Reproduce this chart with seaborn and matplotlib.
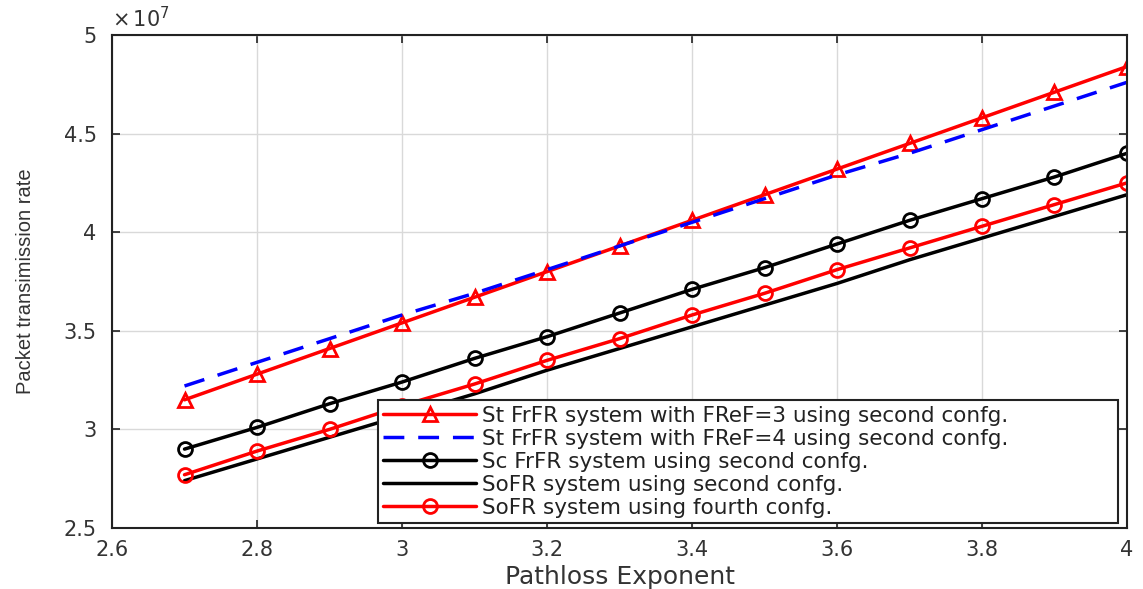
import numpy as np
import pandas as pd
import matplotlib
matplotlib.use("Agg")
import matplotlib.pyplot as plt
import matplotlib.ticker as mticker
import seaborn as sns

# Pathloss exponent values
pathloss = [2.7, 2.8, 2.9, 3.0, 3.1, 3.2, 3.3, 3.4, 3.5, 3.6, 3.7, 3.8, 3.9, 4.0]

# Packet transmission rate (x 1e7) for each scheme
st_frfr_f3 = [3.15, 3.28, 3.41, 3.54, 3.67, 3.80, 3.93, 4.06, 4.19, 4.32, 4.45, 4.58, 4.71, 4.84]
st_frfr_f4 = [3.22, 3.34, 3.46, 3.58, 3.69, 3.81, 3.93, 4.05, 4.17, 4.29, 4.40, 4.52, 4.64, 4.76]
sc_frfr = [2.90, 3.01, 3.13, 3.24, 3.36, 3.47, 3.59, 3.71, 3.82, 3.94, 4.06, 4.17, 4.28, 4.40]
sofr_second = [2.74, 2.85, 2.96, 3.07, 3.18, 3.30, 3.41, 3.52, 3.63, 3.74, 3.86, 3.97, 4.08, 4.19]
sofr_fourth = [2.77, 2.89, 3.00, 3.12, 3.23, 3.35, 3.46, 3.58, 3.69, 3.81, 3.92, 4.03, 4.14, 4.25]

x_ticks = [2.6, 2.8, 3.0, 3.2, 3.4, 3.6, 3.8, 4.0]
y_ticks = [2.5, 3.0, 3.5, 4.0, 4.5, 5.0]
scale = 1e7

labels = [
    "St FrFR system with FReF=3 using second confg.",
    "St FrFR system with FReF=4 using second confg.",
    "Sc FrFR system using second confg.",
    "SoFR system using second confg.",
    "SoFR system using fourth confg.",
]
series = [st_frfr_f3, st_frfr_f4, sc_frfr, sofr_second, sofr_fourth]

styles = [
    dict(color="#ff0000", linestyle="-", marker="^"),
    dict(color="#0000ff", linestyle=(0, (6, 4)), marker=None),
    dict(color="#000000", linestyle="-", marker="o"),
    dict(color="#000000", linestyle="-", marker=None),
    dict(color="#ff0000", linestyle="-", marker="o"),
]

sns.set_style("whitegrid")
plt.rcParams["font.family"] = ["DejaVu Sans"]

fig = plt.figure(figsize=(11.43, 5.89), dpi=100)
ax = fig.add_axes([0.098, 0.1036, 0.888, 0.837])

for vals, lab, st in zip(series, labels, styles):
    df = pd.DataFrame({"x": pathloss, "y": np.array(vals) * scale})
    sns.lineplot(data=df, x="x", y="y", ax=ax, label=lab, color=st["color"],
                 linestyle=st["linestyle"], marker=st["marker"],
                 markersize=10, markerfacecolor="none", markeredgecolor=st["color"],
                 markeredgewidth=2, linewidth=2.5)

ax.set_xlim(2.6, 4.0)
ax.set_ylim(2.5 * scale, 5.0 * scale)
ax.set_xticks(x_ticks)
ax.xaxis.set_major_formatter(mticker.FuncFormatter(lambda v, p: f"{v:g}"))
ax.set_yticks([t * scale for t in y_ticks])
ax.yaxis.set_major_formatter(mticker.FuncFormatter(lambda v, p: f"{v / scale:g}"))
ax.text(0.0, 1.008, r"$\times\,10^{7}$", transform=ax.transAxes, fontsize=15,
        color="#333333", ha="left", va="bottom")

ax.grid(True, color="#d9d9d9", linewidth=1)
for s in ax.spines.values():
    s.set_visible(True)
    s.set_color("#222222")
    s.set_linewidth(1.5)
ax.tick_params(axis="both", direction="in", length=6, width=1.2, color="#222222",
               top=True, right=True, bottom=True, left=True,
               labelsize=15, labelcolor="#333333")
ax.tick_params(axis="y", pad=11)
ax.tick_params(axis="x", pad=9)

ax.set_xlabel("Pathloss Exponent", fontsize=18, color="#333333")
ax.xaxis.set_label_coords(0.5, -0.099)
ax.xaxis.label.set_va("center")
ax.set_ylabel("Packet transimission rate", fontsize=14.5, color="#333333",
              family=["Liberation Sans", "DejaVu Sans"])
ax.yaxis.set_label_coords(-0.076, 0.5)

leg = ax.legend(loc="lower left", bbox_to_anchor=(0.262, 0.01, 0.729, 0.25),
                mode="expand", fontsize=15.5, frameon=True, fancybox=False,
                edgecolor="#222222", framealpha=1, handlelength=4.3,
                borderpad=0.25, labelspacing=0.14, handletextpad=0.3,
                borderaxespad=0.0)
leg.get_frame().set_linewidth(1.5)
for t in leg.get_texts():
    t.set_color("#222222")

fig.savefig("out.png", dpi=100)
